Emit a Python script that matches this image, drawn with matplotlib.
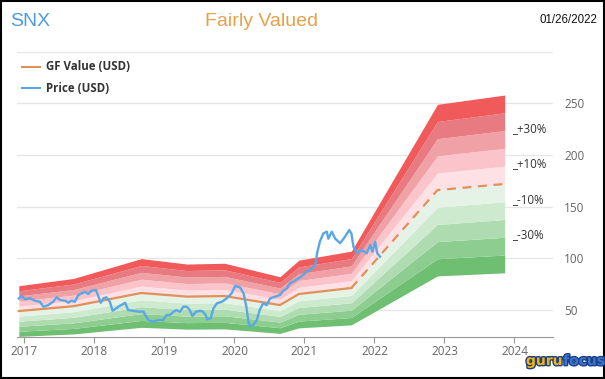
import matplotlib.pyplot as plt
import matplotlib.patheffects as pe
import numpy as np
from matplotlib.lines import Line2D
from matplotlib.patches import Rectangle

# GF Value knots (fractional year, USD)
gf_years = [2016.92, 2017.70, 2018.67, 2019.32, 2019.86, 2020.65, 2020.92, 2021.67, 2022.90, 2023.86]
gf_values = [49.0, 53.7, 66.5, 63.0, 63.5, 54.8, 65.5, 71.3, 166.0, 172.0]
gf_last_actual = 2021.67

# price history (fractional year, USD)
price_years = [
    2016.92, 2016.96, 2017.01, 2017.08, 2017.15, 2017.22, 2017.27, 2017.34, 2017.41, 2017.46,
    2017.51, 2017.58, 2017.63, 2017.67, 2017.72, 2017.77, 2017.82, 2017.86, 2017.91, 2017.96,
    2018.02, 2018.05, 2018.09, 2018.13, 2018.17, 2018.22, 2018.26, 2018.31, 2018.36, 2018.44,
    2018.48, 2018.55, 2018.63, 2018.70, 2018.77, 2018.84, 2018.91, 2018.98, 2019.03, 2019.08,
    2019.13, 2019.17, 2019.22, 2019.27, 2019.32, 2019.36, 2019.40, 2019.45, 2019.51, 2019.55,
    2019.59, 2019.61, 2019.66, 2019.70, 2019.75, 2019.82, 2019.89, 2019.96, 2020.01, 2020.04,
    2020.08, 2020.13, 2020.17, 2020.20, 2020.22, 2020.27, 2020.32, 2020.36, 2020.41, 2020.46,
    2020.51, 2020.58, 2020.65, 2020.70, 2020.75, 2020.79, 2020.84, 2020.89, 2020.94, 2020.98,
    2021.03, 2021.08, 2021.13, 2021.16, 2021.18, 2021.22, 2021.27, 2021.32, 2021.34, 2021.39,
    2021.44, 2021.51, 2021.58, 2021.64, 2021.67, 2021.70, 2021.75, 2021.82, 2021.89, 2021.94,
    2021.97, 2022.01, 2022.04, 2022.08,
]
price_values = [
    61.3, 63.5, 60.4, 61.3, 59.0, 58.0, 53.2, 54.8, 58.0, 62.3,
    59.7, 59.0, 57.1, 59.0, 58.0, 64.5, 66.2, 67.7, 65.5, 68.7,
    69.4, 64.5, 57.0, 61.3, 62.3, 58.0, 49.3, 51.6, 54.0, 57.0,
    50.0, 49.3, 48.4, 48.4, 40.3, 38.7, 40.3, 40.3, 45.2, 45.2,
    48.4, 50.0, 48.4, 53.2, 53.2, 50.0, 44.2, 48.4, 49.3, 48.4,
    45.2, 41.0, 42.0, 51.6, 56.5, 58.0, 61.3, 66.2, 73.2, 72.6,
    72.0, 66.2, 53.2, 38.7, 34.5, 35.5, 40.3, 50.0, 56.5, 54.8,
    61.3, 62.9, 64.5, 68.7, 71.0, 75.8, 77.4, 79.7, 81.7, 83.9,
    87.1, 88.7, 91.9, 95.2, 104.9, 116.1, 124.2, 125.8, 119.0, 125.8,
    119.0, 114.6, 121.0, 127.4, 124.2, 111.3, 104.9, 108.0, 104.9, 112.9,
    106.4, 116.0, 104.9, 101.6,
]

band_levels = [0.5, 0.6, 0.7, 0.8, 0.9, 1.0, 1.1, 1.2, 1.3, 1.4, 1.5]
band_colors = ["#6fbf72", "#8dcd90", "#aedcb0", "#cdeace", "#e5f3e6",
               "#fde1e5", "#fbc4ca", "#f0a1a6", "#e87b81", "#f05a5a"]
pct_labels = ["+30%", "+10%", "-10%", "-30%"]
pct_levels = [1.3, 1.1, 0.9, 0.7]

year_ticks = [2017, 2018, 2019, 2020, 2021, 2022, 2023, 2024]
value_ticks = [50, 100, 150, 200, 250]


def main() -> None:
    fig = plt.figure(figsize=(6.05, 3.79), dpi=100)
    ax = fig.add_axes([0.028, 0.1108, 0.886, 0.753])

    gx = np.array(gf_years)
    gv = np.array(gf_values)
    for lo, hi, color in zip(band_levels[:-1], band_levels[1:], band_colors):
        ax.fill_between(gx, gv * lo, gv * hi, color=color, linewidth=0)

    past = gx <= gf_last_actual + 1e-9
    fut = gx >= gf_last_actual - 1e-9
    ax.plot(gx[past], gv[past], color="#e0915a", lw=1.6)
    ax.plot(gx[fut], gv[fut], color="#e0915a", lw=1.6, dashes=(4, 3))
    ax.plot(price_years, price_values, color="#5aa7e8", lw=1.7)

    x_lab = gf_years[-1] + 0.1
    for lab, lev in zip(pct_labels, pct_levels):
        ax.text(x_lab, gf_values[-1] * lev - 1, "_" + lab, fontsize=8.3,
                color="#333333", family="Open Sans", va="baseline", ha="left")

    ax.set_xlim(2016.893, 2024.55)
    ax.set_ylim(23.9, 300)
    ax.set_xticks(year_ticks)
    ax.set_xticklabels([str(y) for y in year_ticks])
    ax.set_yticks(value_ticks + [300])
    ax.set_yticklabels([str(v) for v in value_ticks] + [""])
    ax.yaxis.tick_right()
    ax.tick_params(axis="y", length=0, pad=8, labelsize=8.5, labelcolor="#666666")
    ax.tick_params(axis="x", length=4, color="#999999", pad=2, labelsize=8.5,
                   labelcolor="#666666")
    for lab in ax.get_xticklabels() + ax.get_yticklabels():
        lab.set_family("Open Sans")
    ax.grid(axis="y", color="#e6e6e6", lw=0.9)
    ax.set_axisbelow(True)
    for side in ("top", "left", "right"):
        ax.spines[side].set_visible(False)
    ax.spines["bottom"].set_color("#999999")

    fig.text(0.016, 0.943, "SNX", fontsize=14, color="#4d9be6",
             family="Liberation Sans", va="center")
    fig.text(0.433, 0.943, "Fairly Valued", fontsize=14, color="#e8a04a",
             family="Liberation Sans", va="center", ha="center")
    fig.text(0.987, 0.947, "01/26/2022", fontsize=8.3, color="#111111",
             family="Liberation Sans", va="center", ha="right")

    legend = [("GF Value (USD)", "#e0915a", 67), ("Price (USD)", "#5aa7e8", 88)]
    for text, color, ypx in legend:
        y = 1 - ypx / 379
        fig.add_artist(Line2D([22 / 605, 40 / 605], [y, y], color=color, lw=1.5))
        fig.text(46 / 605, y, text, fontsize=8.3, fontweight="bold", color="#333333",
                 family="Open Sans", va="center")

    # gurufocus logo, two words side by side
    stroke = [pe.withStroke(linewidth=2.0, foreground="#1c3f8a")]
    ylogo = 1 - 365 / 379
    guru = fig.text(526 / 605, ylogo, "guru", fontsize=10, fontweight="bold",
                    color="#f2b705", family="DejaVu Sans", va="baseline",
                    path_effects=stroke)
    fig.canvas.draw()
    bb = guru.get_window_extent()
    fig.text(bb.x1 / 605 + 0.001, ylogo, "focus", fontsize=10,
             fontweight="bold", color="#3f74c9", family="DejaVu Sans",
             va="baseline", path_effects=stroke)

    fig.add_artist(Rectangle((0.001, 0.002), 0.997, 0.996, transform=fig.transFigure,
                             fill=False, edgecolor="black", lw=1.5))

    fig.savefig("out.png", dpi=100)


if __name__ == "__main__":
    main()
